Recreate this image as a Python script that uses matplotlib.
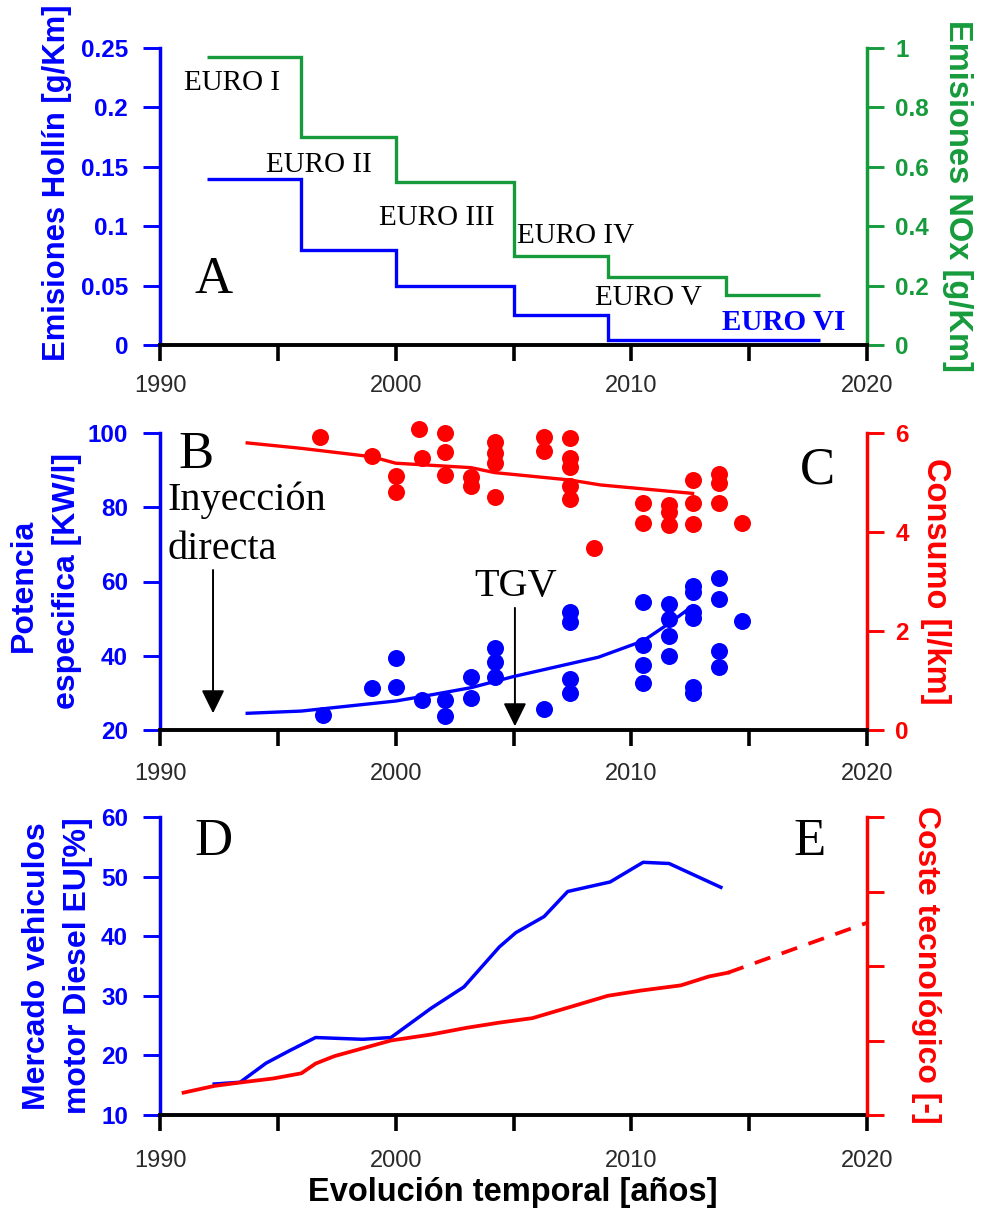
import matplotlib
matplotlib.use('Agg')
import matplotlib.pyplot as plt
import numpy as np

plt.rcParams['font.family'] = ['Liberation Sans', 'DejaVu Sans']

BLUE = '#0000ff'
GREEN = '#169b3c'
RED = '#ff0000'
SERIF = ['Liberation Serif', 'DejaVu Serif']

# ---------------- Panel A : EURO emission limits ----------------
euro_edges = [1992, 1996, 2000, 2005, 2009, 2014, 2018]
hollin = [0.14, 0.08, 0.05, 0.025, 0.0045, 0.0045]
nox = [0.97, 0.70, 0.55, 0.30, 0.23, 0.17]
euro_labels = ['EURO I', 'EURO II', 'EURO III', 'EURO IV', 'EURO V', 'EURO VI']

# ---------------- Panel B/C : specific power & consumption ----------------
pot_years = [1996.9, 1999.0, 2000.0, 2000.0, 2001.1, 2002.1, 2002.1, 2003.2, 2003.2,
             2004.2, 2004.2, 2004.2, 2006.3, 2007.4, 2007.4, 2007.4, 2007.4,
             2010.5, 2010.5, 2010.5, 2010.5, 2011.6, 2011.6, 2011.6, 2011.6,
             2012.6, 2012.6, 2012.6, 2012.6, 2012.6, 2012.6,
             2013.7, 2013.7, 2013.7, 2013.7, 2014.7]
pot_values = [24.0, 31.2, 39.3, 31.6, 28.1, 28.0, 23.7, 34.3, 28.6,
              42.0, 38.2, 34.4, 25.7, 51.9, 49.2, 33.8, 29.9,
              54.6, 42.9, 37.4, 32.7, 54.0, 49.9, 45.2, 40.0,
              58.9, 57.3, 51.9, 50.1, 31.7, 30.0,
              61.0, 55.2, 41.4, 37.1, 49.4]
pot_trend_years = [1993.7, 1996.0, 2000.0, 2001.1, 2003.2, 2005.0, 2008.6, 2010.5, 2011.6, 2012.6]
pot_trend = [24.5, 25.1, 27.8, 29.0, 31.4, 34.4, 39.6, 44.0, 48.7, 53.4]

cons_years = [1996.8, 1999.0, 2000.0, 2000.0, 2001.0, 2001.1, 2002.1, 2002.1, 2002.1,
              2003.2, 2003.2, 2004.2, 2004.2, 2004.2, 2004.2, 2006.3, 2006.3,
              2007.4, 2007.4, 2007.4, 2007.4, 2007.4, 2008.4,
              2010.5, 2010.5, 2011.6, 2011.6, 2011.6, 2012.6, 2012.6, 2012.6,
              2013.7, 2013.7, 2013.7, 2014.7]
cons_values = [5.91, 5.54, 5.14, 4.81, 6.09, 5.49, 6.01, 5.61, 5.15,
               5.12, 4.92, 5.82, 5.59, 5.39, 4.71, 5.91, 5.64,
               5.89, 5.49, 5.32, 4.93, 4.66, 3.67,
               4.58, 4.18, 4.55, 4.41, 4.14, 5.05, 4.58, 4.16,
               5.17, 4.98, 4.58, 4.18]
cons_trend_years = [1993.7, 1996.0, 1999.0, 2000.0, 2003.2, 2004.2, 2007.4, 2008.7, 2012.6]
cons_trend = [5.80, 5.69, 5.52, 5.39, 5.30, 5.20, 5.05, 4.95, 4.78]

# ---------------- Panel D/E : diesel market share & technology cost ----------------
market_years = [1992.3, 1993.4, 1994.5, 1995.5, 1996.6, 1998.6, 1999.8, 2001.5, 2002.9,
                2004.4, 2005.1, 2006.3, 2007.3, 2009.1, 2010.5, 2011.6, 2013.8]
market_share = [15.2, 15.5, 18.7, 20.8, 23.0, 22.7, 23.0, 27.9, 31.5,
                38.2, 40.6, 43.3, 47.5, 49.1, 52.4, 52.2, 48.2]
cost_years = [1991.0, 1992.3, 1993.5, 1994.8, 1996.0, 1996.6, 1997.4, 1999.8, 2001.5,
              2003.0, 2004.4, 2005.8, 2007.3, 2009.0, 2010.4, 2012.1, 2013.3, 2014.1]
cost_values = [0.30, 0.39, 0.44, 0.49, 0.56, 0.69, 0.79, 1.00, 1.08,
               1.17, 1.24, 1.30, 1.44, 1.60, 1.67, 1.74, 1.86, 1.91]
cost_proj_years = [2014.1, 2020.0]
cost_proj_values = [1.91, 2.58]

xticks = [1990, 1995, 2000, 2005, 2010, 2015, 2020]
xticklabels = ['1990', '', '2000', '', '2010', '', '2020']

W, H = 982, 1212
fig = plt.figure(figsize=(W / 100, H / 100), dpi=100)


def axes_px(left, top, right, bottom):
    return fig.add_axes([left / W, 1 - bottom / H, (right - left) / W, (bottom - top) / H])


def style(ax, ax2, lcolor, rcolor, xpad):
    ax.set_xlim(1990, 2020)
    ax.spines['top'].set_visible(False)
    ax.spines['right'].set_visible(False)
    ax2.spines['top'].set_visible(False)
    ax2.spines['left'].set_visible(False)
    ax2.spines['bottom'].set_visible(False)
    ax.spines['left'].set_color(lcolor)
    ax.spines['left'].set_linewidth(2.5)
    ax.spines['bottom'].set_color('black')
    ax.spines['bottom'].set_linewidth(2.8)
    ax2.spines['right'].set_color(rcolor)
    ax2.spines['right'].set_linewidth(2.5)
    ax.set_xticks(xticks, xticklabels)
    ax.tick_params(axis='x', direction='out', length=11.5, width=2.6, color='black',
                   labelsize=17, labelcolor='#2a2a2a', pad=xpad)
    ax.tick_params(axis='y', direction='out', length=12, width=2.1, color=lcolor,
                   labelcolor=lcolor, labelsize=17.5, pad=11)
    ax2.tick_params(axis='y', direction='out', length=12, width=2.1, color=rcolor,
                    labelcolor=rcolor, labelsize=17.5, pad=8.5)
    ax.patch.set_visible(False)


def ftext(px, py, s, **kw):
    fig.text(px / W, 1 - py / H, s, ha='center', va='center', **kw)


# ---------- Panel A ----------
axA = axes_px(160, 48, 867, 345)
axA2 = axA.twinx()
style(axA, axA2, BLUE, GREEN, 10)
axA.set_ylim(0, 0.25)
axA2.set_ylim(0, 1)
axA.set_yticks([0, 0.05, 0.1, 0.15, 0.2, 0.25], ['0', '0.05', '0.1', '0.15', '0.2', '0.25'],
               fontweight='bold')
axA2.set_yticks([0, 0.2, 0.4, 0.6, 0.8, 1.0], ['0', '0.2', '0.4', '0.6', '0.8', '1'],
                fontweight='bold')
axA.stairs(hollin, euro_edges, baseline=None, color=BLUE, lw=2.4)
axA2.stairs(nox, euro_edges, baseline=None, color=GREEN, lw=2.4)
axA2.set_zorder(axA.get_zorder() - 1)

label_pos = [(1991.0, 0.2146), (1994.5, 0.1459), (1999.3, 0.1010),
             (2005.15, 0.0856), (2008.45, 0.0337), (2013.85, 0.0126)]
for (lx, ly), lab in zip(label_pos, euro_labels):
    if lab == 'EURO VI':
        axA.text(lx, ly, lab, family=SERIF, fontsize=21, fontweight='bold', color=BLUE,
                 va='baseline', ha='left')
    else:
        axA.text(lx, ly, lab, family=SERIF, fontsize=21, color='black',
                 va='baseline', ha='left')
axA.text(1991.45, 0.0435, 'A', family=SERIF, fontsize=38, va='baseline', ha='left')

ftext(57, 183, 'Emisiones Hollín [g/Km]', rotation=90, fontsize=22.3, fontweight='bold', color=BLUE)
ftext(957, 196, 'Emisiones NOx [g/Km]', rotation=270, fontsize=23.5, fontweight='bold', color=GREEN)

# ---------- Panel B / C ----------
axB = axes_px(160, 433, 867, 730)
axB2 = axB.twinx()
style(axB, axB2, BLUE, RED, 12)
axB.set_ylim(20, 100)
axB2.set_ylim(0, 6)
axB.set_yticks([20, 40, 60, 80, 100], ['20', '40', '60', '80', '100'], fontweight='bold')
axB2.set_yticks([0, 2, 4, 6], ['0', '2', '4', '6'], fontweight='bold')
axB2.set_zorder(axB.get_zorder() - 1)

axB2.scatter(cons_years, cons_values, s=150, color=RED, linewidths=0, zorder=3, clip_on=False)
axB2.plot(cons_trend_years, cons_trend, color=RED, lw=2.4, zorder=4)
axB.scatter(pot_years, pot_values, s=150, color=BLUE, linewidths=0, zorder=3, clip_on=False)
axB.plot(pot_trend_years, pot_trend, color=BLUE, lw=2.4, zorder=4)

arrow_style = dict(arrowstyle='-|>,head_length=0.65,head_width=0.32', color='black',
                   lw=1.4, mutation_scale=22, shrinkA=0, shrinkB=0)
axB.annotate('', xy=(1992.25, 24.5), xytext=(1992.25, 63.1), arrowprops=arrow_style)
axB.annotate('', xy=(2005.06, 21.0), xytext=(2005.06, 52.9), arrowprops=arrow_style)
axB.text(1990.3, 79.3, 'Inyección', family=SERIF, fontsize=29, va='baseline', ha='left')
axB.text(1990.3, 66.0, 'directa', family=SERIF, fontsize=29, va='baseline', ha='left')
axB.text(2003.35, 56.1, 'TGV', family=SERIF, fontsize=29, va='baseline', ha='left')
axB.text(1990.78, 90.5, 'B', family=SERIF, fontsize=38, va='baseline', ha='left')
axB.text(2017.15, 86.3, 'C', family=SERIF, fontsize=38, va='baseline', ha='left')

ftext(24, 585, 'Potencia', rotation=90, fontsize=23, fontweight='bold', color=BLUE)
ftext(67, 581, 'especifica [KW/l]', rotation=90, fontsize=23, fontweight='bold', color=BLUE)
ftext(936, 581, 'Consumo [l/km]', rotation=270, fontsize=23.5, fontweight='bold', color=RED)

# ---------- Panel D / E ----------
axD = axes_px(160, 817, 867, 1115)
axD2 = axD.twinx()
style(axD, axD2, BLUE, RED, 14)
axD.set_ylim(10, 60)
axD2.set_ylim(0, 4)
axD.set_yticks([10, 20, 30, 40, 50, 60], ['10', '20', '30', '40', '50', '60'], fontweight='bold')
axD2.set_yticks([0, 1, 2, 3, 4], ['', '', '', '', ''])
axD.plot(market_years, market_share, color=BLUE, lw=2.5)
axD2.plot(cost_years, cost_values, color=RED, lw=2.7)
axD2.plot(cost_proj_years, cost_proj_values, color=RED, lw=2.7, dashes=(4.4, 3.2))
axD2.set_zorder(axD.get_zorder() + 1)
axD.text(1991.48, 53.6, 'D', family=SERIF, fontsize=38, va='baseline', ha='left')
axD.text(2016.87, 53.6, 'E', family=SERIF, fontsize=38, va='baseline', ha='left')

ftext(37, 966, 'Mercado vehiculos', rotation=90, fontsize=23, fontweight='bold', color=BLUE)
ftext(78, 966, 'motor Diesel EU[%]', rotation=90, fontsize=23, fontweight='bold', color=BLUE)
ftext(926, 965, 'Coste tecnológico [-]', rotation=270, fontsize=23, fontweight='bold', color=RED)
ftext(513, 1192, 'Evolución temporal [años]', fontsize=23.5, fontweight='bold', color='black')

fig.savefig('out.png', dpi=100)
